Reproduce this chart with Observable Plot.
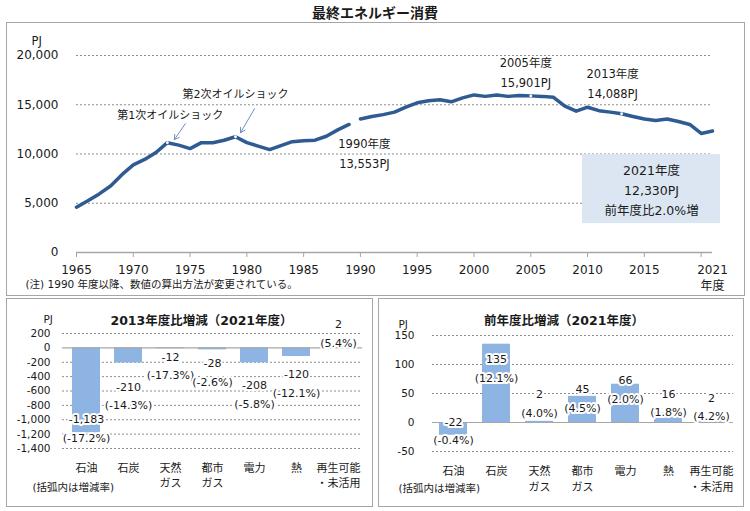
<!DOCTYPE html>
<html><head><meta charset="utf-8">
<script src="https://cdn.jsdelivr.net/npm/d3@7"></script>
<script src="https://cdn.jsdelivr.net/npm/@observablehq/plot@0.6"></script>
<style>
body{margin:0;background:#fff;width:750px;height:511px;position:relative;overflow:hidden;font-family:"DejaVu Sans","Noto Sans CJK JP",sans-serif;color:#1a1a1a;}
#title{position:absolute;left:0;top:3px;width:750px;text-align:center;font-size:14px;font-weight:bold;font-family:"Noto Sans CJK JP",sans-serif;line-height:18px;}
.panel{position:absolute;border:1.5px solid #a6a6a6;box-sizing:border-box;pointer-events:none;}
.chart{position:absolute;}
</style></head><body>
<div id="title">最終エネルギー消費</div>
<div id="top" class="chart" style="left:6px;top:22px"></div>
<div id="bl" class="chart" style="left:6px;top:298px"></div>
<div id="br" class="chart" style="left:378px;top:298px"></div>
<div class="panel" style="left:6px;top:22px;width:739px;height:274px"></div>
<div class="panel" style="left:6px;top:298px;width:367px;height:209px"></div>
<div class="panel" style="left:378px;top:298px;width:366px;height:209px"></div>
<script>
// ---------- data ----------
const years = d3.range(1965, 2022);
const consumption = [4600,5250,5950,6750,7900,8900,9450,10150,11150,10900,
  10550,11150,11150,11400,11750,11150,10800,10450,10850,11250,
  11350,11400,11800,12450,13000,13553,13800,14000,14250,14750,
  15200,15400,15500,15300,15700,16000,15850,16000,15850,15950,
  15901,15850,15750,14850,14350,14750,14400,14250,14088,13800,
  13550,13400,13550,13300,13000,12090,12330];
const methodChangeYear = 1990;
const markedYears = [1973, 1979, 2005, 2013];
const yTicksTop = [0, 5000, 10000, 15000, 20000];
const xTickYears = [1965,1970,1975,1980,1985,1990,1995,2000,2005,2010,2015,2020];
const xLabelYears = [1965,1970,1975,1980,1985,1990,1995,2000,2005,2010,2015,2021];

const fuels = ["石油","石炭","天然\nガス","都市\nガス","電力","熱","再生可能\n・未活用"];
const chg2013 = [-1183,-210,-12,-28,-208,-120,2];
const pct2013 = [-17.2,-14.3,-17.3,-2.6,-5.8,-12.1,5.4];
const chgPrev = [-22,135,2,45,66,16,2];
const pctPrev = [-0.4,12.1,4.0,4.5,2.0,1.8,4.2];
const yTicksL = [200,0,-200,-400,-600,-800,-1000,-1200,-1400];
const yTicksR = [150,100,50,0,-50];

// ---------- style ----------
const FONT = "'DejaVu Sans','Noto Sans CJK JP',sans-serif";
const LINE = "#2e5b92", BAR = "#8db4e2", GRID = "#8c8c8c", AXIS = "#a6a6a6", BOX = "#dce6f2", ARROW = "#6f8fbf";
const fmt = d => d3.format(",")(d).replace("\u2212", "-");
const pctFmt = d => "(" + d.toFixed(1) + "%)";

// ---------- top chart ----------
const rows = years.map((y, i) => ({year: y, value: consumption[i], series: y < methodChangeYear ? "old" : "new"}));
const pt = y => rows.find(d => d.year === y);
const W1 = 739, H1 = 274, ml1 = 70, mr1 = 33, mt1 = 33, mb1 = 44;
const kx = (W1 - ml1 - mr1) / (2021 - 1965);
const ky = (H1 - mt1 - mb1) / 20000;
const lastYear = years[years.length - 1];
const tAnn = {fontSize: 11.5, fill: "#1a1a1a"};

const topPlot = Plot.plot({
  width: W1, height: H1, marginLeft: ml1, marginRight: mr1, marginTop: mt1, marginBottom: mb1,
  x: {domain: [1965, 2021], axis: null},
  y: {domain: [0, 20000], axis: null},
  style: {fontFamily: FONT, fontSize: "12px", background: "transparent", color: "#1a1a1a", overflow: "visible"},
  marks: [
    Plot.gridY(yTicksTop.filter(d => d > 0), {stroke: GRID, strokeOpacity: 1, strokeDasharray: "2,2"}),
    Plot.rect([pt(lastYear)], {x1: d => d.year - 130 / kx, x2: d => d.year + 8 / kx,
      y1: d => d.value - 23.6 / ky, y2: d => d.value - 92.6 / ky, fill: BOX}),
    Plot.ruleY([0], {stroke: AXIS, strokeWidth: 1.5}),
    Plot.axisX({ticks: xTickYears, tickSize: 5, tickFormat: () => "", stroke: AXIS, label: null}),
    Plot.axisX({ticks: xLabelYears, tickSize: 0, tickPadding: 13, tickFormat: d => String(d), label: null}),
    Plot.axisY({ticks: yTicksTop, tickSize: 0, tickPadding: 18, tickFormat: fmt, label: null}),
    Plot.text(["PJ"], {frameAnchor: "top-left", dx: -45, dy: -19, fontSize: 11.5}),
    Plot.text([pt(lastYear)], {x: "year", y: 0, dy: 34, text: () => "年度"}),
    Plot.text(["(注) 1990 年度以降、数値の算出方法が変更されている。"], {frameAnchor: "bottom-left", textAnchor: "start", dx: -51, dy: 35, fontSize: 10.5}),
    Plot.line(rows, {x: "year", y: "value", z: "series", stroke: LINE, strokeWidth: 3.5}),
    Plot.dot(rows.filter(d => markedYears.includes(d.year)), {x: "year", y: "value", r: 1.4, fill: "white"}),
    // annotations
    Plot.text([pt(1973)], {x: "year", y: "value", text: () => "第1次オイルショック", dx: 3, dy: -27, ...tAnn, fontSize: 11}),
    Plot.arrow([pt(1973)], {x1: d => d.year + 18 / kx, y1: d => d.value + 19 / ky, x2: d => d.year + 7 / kx, y2: d => d.value + 3 / ky, stroke: ARROW, strokeWidth: 1, headLength: 8}),
    Plot.text([pt(1979)], {x: "year", y: "value", text: () => "第2次オイルショック", dx: 0, dy: -42, ...tAnn, fontSize: 11}),
    Plot.arrow([pt(1979)], {x1: d => d.year + 19 / kx, y1: d => d.value + 28 / ky, x2: d => d.year + 5 / kx, y2: d => d.value + 4 / ky, stroke: ARROW, strokeWidth: 1, headLength: 8}),
    Plot.text([pt(1990)], {x: "year", y: "value", text: d => d.year + "年度", dx: 4, dy: 25, ...tAnn}),
    Plot.text([pt(1990)], {x: "year", y: "value", text: d => fmt(d.value) + "PJ", dx: 4, dy: 45, ...tAnn}),
    Plot.text([pt(2005)], {x: "year", y: "value", text: d => d.year + "年度", dx: -5, dy: -33, ...tAnn}),
    Plot.text([pt(2005)], {x: "year", y: "value", text: d => fmt(d.value) + "PJ", dx: -5, dy: -13, ...tAnn}),
    Plot.text([pt(2013)], {x: "year", y: "value", text: d => d.year + "年度", dx: -9, dy: -39, ...tAnn}),
    Plot.text([pt(2013)], {x: "year", y: "value", text: d => fmt(d.value) + "PJ", dx: -9, dy: -19, ...tAnn}),
    Plot.text([pt(lastYear)], {x: "year", y: "value", text: d => d.year + "年度", dx: -61, dy: 40, fontSize: 12.5}),
    Plot.text([pt(lastYear)], {x: "year", y: "value", text: d => fmt(d.value) + "PJ", dx: -61, dy: 60, fontSize: 12.5}),
    Plot.text([pt(lastYear)], {x: "year", y: "value", text: d => "前年度比" + ((d.value / pt(lastYear - 1).value - 1) * 100).toFixed(1) + "%増", dx: -61, dy: 80, fontSize: 12.5})
  ]
});
document.getElementById("top").appendChild(topPlot);

// ---------- bar charts ----------
function barChart({el, values, pcts, yDomain, yTicks, W, H, ml, mr, mt, mb, title, titleDx, titleDy, pjDx, pjDy, noteDx, noteDy, tickPad, catDy, shifts}) {
  const data = fuels.map((f, i) => ({fuel: f, value: values[i], pct: pcts[i], shift: shifts[i]}));
  const k = (H - mt - mb) / (yDomain[1] - yDomain[0]);
  const halo = {stroke: "white", strokeWidth: 4, fill: "#1a1a1a", fontSize: 11};
  const p = Plot.plot({
    width: W, height: H, marginLeft: ml, marginRight: mr, marginTop: mt, marginBottom: mb,
    x: {domain: fuels, paddingInner: 0.34, paddingOuter: 0.17, axis: null},
    y: {domain: yDomain, axis: null},
    style: {fontFamily: FONT, fontSize: "11px", background: "transparent", color: "#1a1a1a", overflow: "visible"},
    marks: [
      Plot.gridY(yTicks.filter(d => d !== 0), {stroke: GRID, strokeOpacity: 1, strokeDasharray: "2,2"}),
      Plot.barY(data, {x: "fuel", y: "value", fill: BAR}),
      Plot.ruleY([0], {stroke: AXIS, strokeWidth: 1.2}),
      Plot.axisY({ticks: yTicks, tickSize: 0, tickPadding: tickPad, tickFormat: fmt, fontSize: 10.5, label: null}),
      Plot.text(fuels, {x: d => d, frameAnchor: "bottom", lineAnchor: "top", dy: catDy, lineHeight: 1.45, fontSize: 11}),
      Plot.text([title], {frameAnchor: "top", dx: titleDx, dy: titleDy, fontWeight: "bold", fontSize: 12.5}),
      Plot.text(["PJ"], {frameAnchor: "top-left", dx: pjDx, dy: pjDy, fontSize: 10.5}),
      Plot.text(["(括弧内は増減率)"], {frameAnchor: "bottom-left", textAnchor: "start", dx: noteDx, dy: noteDy, fontSize: 10.5}),
      Plot.text(data, {x: "fuel", y: d => d.value - d.shift / k, text: d => fmt(d.value), ...halo}),
      Plot.text(data, {x: "fuel", y: d => d.value - (d.shift + 18.5) / k, text: d => pctFmt(d.pct), ...halo})
    ]
  });
  document.getElementById(el).appendChild(p);
}

barChart({el: "bl", values: chg2013, pcts: pct2013, yDomain: [-1400, 200], yTicks: yTicksL,
  W: 367, H: 209, ml: 56, mr: 11, mt: 35, mb: 59,
  title: "2013年度比増減（2021年度）", titleDx: -11, titleDy: -17.5, pjDx: -19, pjDy: -18,
  noteDx: -30, noteDy: 42, tickPad: 12, catDy: 11.7,
  shifts: [-13, 24, 8.5, 14, 23, 18, -23]});

barChart({el: "br", values: chgPrev, pcts: pctPrev, yDomain: [-50, 150], yTicks: yTicksR,
  W: 366, H: 209, ml: 54, mr: 11, mt: 37, mb: 56,
  title: "前年度比増減（2021年度）", titleDx: -19, titleDy: -19.3, pjDx: -34, pjDy: -15,
  noteDx: -34, noteDy: 40.7, tickPad: 18, catDy: 12,
  shifts: [-13, 15.5, -26.5, -6.6, -3.4, -19, -23]});
</script>
</body></html>
